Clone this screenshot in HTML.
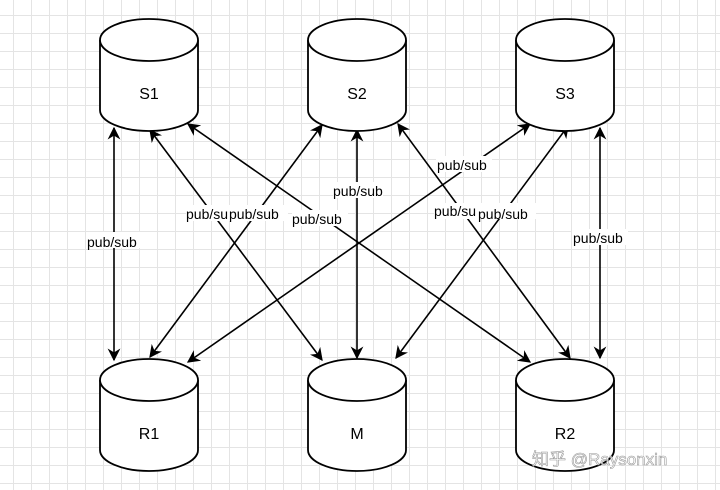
<!DOCTYPE html>
<html><head><meta charset="utf-8"><style>
html,body{margin:0;padding:0;background:#fff}
body{width:720px;height:490px;overflow:hidden;
background-image:linear-gradient(#e4e4e4 1px,transparent 1px),linear-gradient(90deg,#e4e4e4 1px,transparent 1px);
background-size:18px 18px;background-position:-5px -3px}
svg{position:absolute;left:0;top:0}
text{font-family:"Liberation Sans",Arial,sans-serif}
</style></head><body>
<svg width="720" height="490" viewBox="0 0 720 490">
<defs>
<marker id="a" viewBox="0 0 10 10" refX="9" refY="5" markerWidth="8" markerHeight="8" orient="auto-start-reverse"><path d="M0,0 L10,5 L0,10 L3,5 z" fill="#000"/></marker>
</defs>
<g stroke="#000" stroke-width="1.6" fill="none" marker-start="url(#a)" marker-end="url(#a)">
<line x1="114" y1="128" x2="114" y2="360"/>
<line x1="150" y1="130" x2="322" y2="360"/>
<line x1="188" y1="124" x2="530" y2="362"/>
<line x1="322" y1="125" x2="150" y2="357"/>
<line x1="357" y1="130" x2="357" y2="358"/>
<line x1="398" y1="124" x2="570" y2="358"/>
<line x1="530" y1="124" x2="188" y2="362"/>
<line x1="568" y1="126" x2="396" y2="358"/>
<line x1="600" y1="128" x2="600" y2="358"/>
</g>
<g stroke="#000" stroke-width="1.8" fill="#fff">
<g id="c"><path d="M100,40 L100,110 A49,21 0 0 0 198,110 L198,40"/><ellipse cx="149" cy="40" rx="49" ry="21"/></g>
<use href="#c" x="208"/><use href="#c" x="416"/>
<use href="#c" y="340"/><use href="#c" x="208" y="340"/><use href="#c" x="416" y="340"/>
</g>
<g font-size="16" text-anchor="middle" fill="#000">
<text x="149" y="99">S1</text><text x="357" y="99">S2</text><text x="565" y="99">S3</text>
<text x="149" y="439">R1</text><text x="357" y="439">M</text><text x="565" y="439">R2</text>
</g>
<g font-size="14" fill="#000">
<rect x="86" y="232" width="56" height="16" fill="#fff"/><text x="87" y="247">pub/sub</text>
<rect x="186" y="205" width="102" height="16" fill="#fff"/><text x="186" y="219">pub/su</text><text x="229" y="219">pub/sub</text>
<rect x="292" y="210" width="56" height="16" fill="#fff"/><text x="292" y="224">pub/sub</text>
<rect x="333" y="182" width="50" height="16" fill="#fff"/><text x="333" y="196">pub/sub</text>
<rect x="436" y="156" width="56" height="16" fill="#fff"/><text x="437" y="170">pub/sub</text>
<rect x="434" y="203" width="102" height="16" fill="#fff"/><text x="434" y="216">pub/su</text><text x="478" y="219">pub/sub</text>
<rect x="572" y="229" width="56" height="16" fill="#fff"/><text x="573" y="243">pub/sub</text>
</g>
<text x="532" y="465" font-size="17" fill="#fff" fill-opacity="0.75" stroke="#999" stroke-width="0.6" style="font-family:'Liberation Sans','Noto Sans CJK SC',sans-serif">知乎 @Raysonxin</text>
</svg>
</body></html>
